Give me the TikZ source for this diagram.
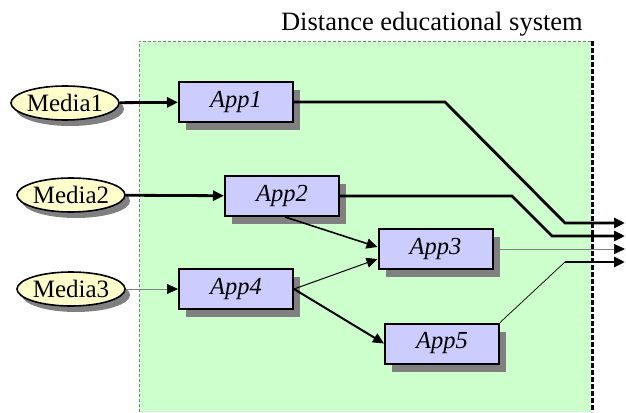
\documentclass[tikz,border=0pt]{standalone}
\usepackage{fontspec}
\setmainfont{Liberation Serif}
\usetikzlibrary{shapes.geometric,arrows.meta,shadows,calc}
\definecolor{bggreen}{HTML}{CCFFCC}
\definecolor{boxblue}{HTML}{CCCCFF}
\definecolor{medyellow}{HTML}{FFFFCC}
\definecolor{shadowgray}{HTML}{808080}
\tikzset{
  media/.style={ellipse, draw=black, line width=1.6pt, fill=medyellow,
    minimum width=106pt, minimum height=34pt, inner sep=0pt,
    font=\fontsize{25}{28}\selectfont,
    drop shadow={shadow xshift=5pt, shadow yshift=-6pt, fill=shadowgray, opacity=1}},
  app/.style={rectangle, draw=black, line width=2pt, fill=boxblue,
    minimum width=114pt, minimum height=40pt, inner sep=0pt,
    font=\fontsize{24.5}{28}\selectfont\itshape,
    drop shadow={shadow xshift=7pt, shadow yshift=-8pt, fill=shadowgray, opacity=1}},
  tip/.style={-{Triangle[length=11pt,width=10pt,color=black,fill=black]}},
  thickline/.style={line width=2.8pt, black},
  midline/.style={line width=1.6pt, black},
  thinline/.style={line width=1pt, black},
  grayline/.style={line width=0.7pt, shadowgray},
}
\begin{document}
\begin{tikzpicture}[x=1pt,y=-1pt]
\useasboundingbox (0,0) rectangle (626,412);
% system area
\fill[bggreen] (139,41) rectangle (592,412);
\draw[shadowgray, line width=0.7pt, dash pattern=on 3pt off 2pt] (139,412) -- (139,41) -- (592,41);
\draw[black, line width=3pt, dash pattern=on 5pt off 2pt] (592,41) -- (592,412);
\node[anchor=base east, font=\fontsize{26.5}{30}\selectfont, inner sep=0pt] (title) at (583,31) {Distance educational system};
% media
\node[media] (m1) at (65,103) {Media1};
\node[media] (m2) at (71,195) {Media2};
\node[media] (m3) at (71,289) {Media3};
% apps
\node[app] (a1) at (236,102) {App1};
\node[app] (a2) at (282,196) {App2};
\node[app] (a4) at (236,289) {App4};
\node[app] (a3) at (435.5,249) {App3};
\node[app] (a5) at (442,343.5) {App5};
% outputs
\coordinate (o1) at (625,223);
\coordinate (o2) at (625,236);
\coordinate (o3) at (625,249);
\coordinate (o4) at (625,262);
% connectors
\draw[thickline, tip] (m1) -- (a1);
\draw[thickline, tip] (m2) -- (a2);
\draw[grayline, tip] (m3) -- (a4);
\draw[midline, tip] ($(a2.south)+(3,0)$) -- ($(a3.west)+(0,-2)$);
\draw[thinline, tip] (a4.east) -- ($(a3.west)+(0,10)$);
\draw[line width=2pt, tip] (a4.east) -- (a5.west);
\draw[thickline, tip] (a1.east) -- (445,102) -- (565,223) -- (o1);
\draw[thickline, tip] (a2.east) -- (512,196) -- (552,236) -- (o2);
\draw[grayline, tip] (a3.east) -- (o3);
\draw[line width=0.7pt] (a5.north east) -- (565,262);
\draw[thickline, tip] (565,262) -- (o4);
\end{tikzpicture}
\end{document}
